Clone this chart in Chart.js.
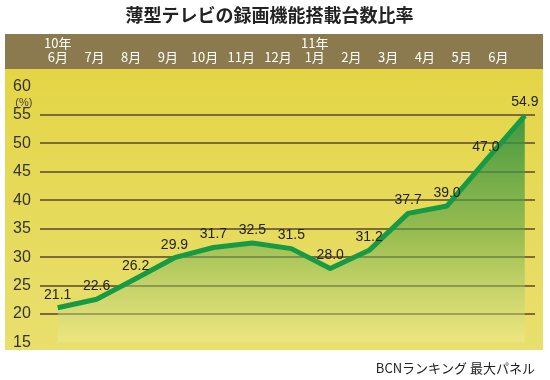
<!DOCTYPE html>
<html>
<head>
<meta charset="utf-8">
<script src="https://cdn.jsdelivr.net/npm/chart.js@4"></script>
<style>
  body { margin: 0; background: #fff; }
  #wrap { width: 550px; height: 380px; }
</style>
</head>
<body>
<div id="wrap"><canvas id="ratioChart"></canvas></div>
<script>
// months shown in the header band (multi-line where the year changes)
var months = [['10年', '6月'], '7月', '8月', '9月', '10月', '11月', '12月', ['11年', '1月'], '2月', '3月', '4月', '5月', '6月'];
// share of flat TVs with recording function (%)
var ratios = [21.1, 22.6, 26.2, 29.9, 31.7, 32.5, 31.5, 28.0, 31.2, 37.7, 39.0, 47.0, 54.9];
var yTicks = [15, 20, 25, 30, 35, 40, 45, 50, 55, 60];

var points = ratios.map(function (v, i) { return { x: i, y: v }; });

// brown header band + yellow board behind the plot
var panelBackground = {
  id: 'panelBackground',
  beforeDraw: function (chart) {
    var c = chart.ctx;
    var left = 5, right = 543, bandTop = 34, bandBottom = 69, bottom = 350;
    c.save();
    c.fillStyle = '#8b7a4d';
    c.fillRect(left, bandTop, right - left, bandBottom - bandTop);
    var g = c.createLinearGradient(0, bandBottom, 0, bottom);
    g.addColorStop(0, '#e4d546');
    g.addColorStop(1, '#e9df6e');
    c.fillStyle = g;
    c.fillRect(left, bandBottom, right - left, bottom - bandBottom);
    c.restore();
  }
};

// value labels above each point, plus the (%) unit
var valueLabels = {
  id: 'valueLabels',
  afterDatasetsDraw: function (chart) {
    var c = chart.ctx;
    var meta = chart.getDatasetMeta(0);
    c.save();
    c.fillStyle = '#222';
    c.font = '14px "Liberation Sans", Arial, sans-serif';
    c.textAlign = 'center';
    c.textBaseline = 'middle';
    meta.data.forEach(function (pt, i) {
      c.fillText(ratios[i].toFixed(1), pt.x, pt.y - 13);
    });
    var ys = chart.scales.y;
    c.font = '11px "Liberation Sans", Arial, sans-serif';
    c.fillStyle = '#444';
    c.fillText('(%)', chart.chartArea.left - 16, ys.getPixelForValue(57.5) + 2);
    c.restore();
  }
};

var ctx = document.getElementById('ratioChart').getContext('2d');
var chart = new Chart(ctx, {
  type: 'line',
  data: {
    datasets: [{
      data: points,
      xAxisID: 'x',
      borderColor: '#169a45',
      borderWidth: 5,
      borderJoinStyle: 'round',
      pointRadius: 0,
      tension: 0,
      fill: 'start',
      backgroundColor: function (context) {
        var a = context.chart.chartArea;
        if (!a) return 'rgba(40,140,60,0.5)';
        var g = context.chart.ctx.createLinearGradient(0, a.top + 20, 0, a.bottom);
        g.addColorStop(0, 'rgba(40,140,65,0.9)');
        g.addColorStop(0.55, 'rgba(90,165,70,0.55)');
        g.addColorStop(1, 'rgba(240,238,150,0.45)');
        return g;
      }
    }]
  },
  options: {
    responsive: true,
    maintainAspectRatio: false,
    animation: false,
    layout: { padding: { left: 4, right: 15, bottom: 4, top: 0 } },
    scales: {
      x: {
        type: 'linear',
        min: -0.46,
        max: 12.26,
        display: false
      },
      xTop: {
        type: 'linear',
        position: 'top',
        min: -0.49,
        max: 13.0,
        grid: { display: false, drawTicks: false },
        border: { display: false },
        afterBuildTicks: function (s) {
          s.ticks = months.map(function (m, i) { return { value: i }; });
        },
        afterFit: function (s) { s.height = 61; },
        ticks: {
          color: '#fff',
          padding: 22,
          maxRotation: 0,
          autoSkip: false,
          font: { family: '"Noto Sans CJK JP", sans-serif', size: 13, lineHeight: 1.1 },
          callback: function (v) { return months[v]; }
        }
      },
      y: {
        min: 15,
        max: 60,
        afterBuildTicks: function (s) {
          s.ticks = yTicks.map(function (v) { return { value: v }; });
        },
        border: { display: false },
        grid: {
          drawTicks: false,
          lineWidth: 2,
          color: function (c) {
            return (c.tick.value === 15 || c.tick.value === 60) ? 'rgba(0,0,0,0)' : '#7d6b3b';
          }
        },
        ticks: {
          color: '#333',
          padding: 9,
          font: { family: '"Liberation Sans", Arial, sans-serif', size: 16 }
        }
      }
    },
    plugins: {
      legend: { display: false },
      tooltip: { enabled: false },
      title: {
        display: true,
        text: '薄型テレビの録画機能搭載台数比率',
        color: '#222',
        font: { family: '"Noto Sans CJK JP", sans-serif', size: 18, weight: 'bold' },
        padding: { top: 4, bottom: 0 }
      },
      subtitle: {
        display: true,
        position: 'bottom',
        align: 'end',
        text: 'BCNランキング 最大パネル',
        color: '#222',
        font: { family: '"Noto Sans CJK JP", sans-serif', size: 13 },
        padding: { top: 18, bottom: 0 }
      }
    }
  },
  plugins: [panelBackground, valueLabels]
});
</script>
</body>
</html>
